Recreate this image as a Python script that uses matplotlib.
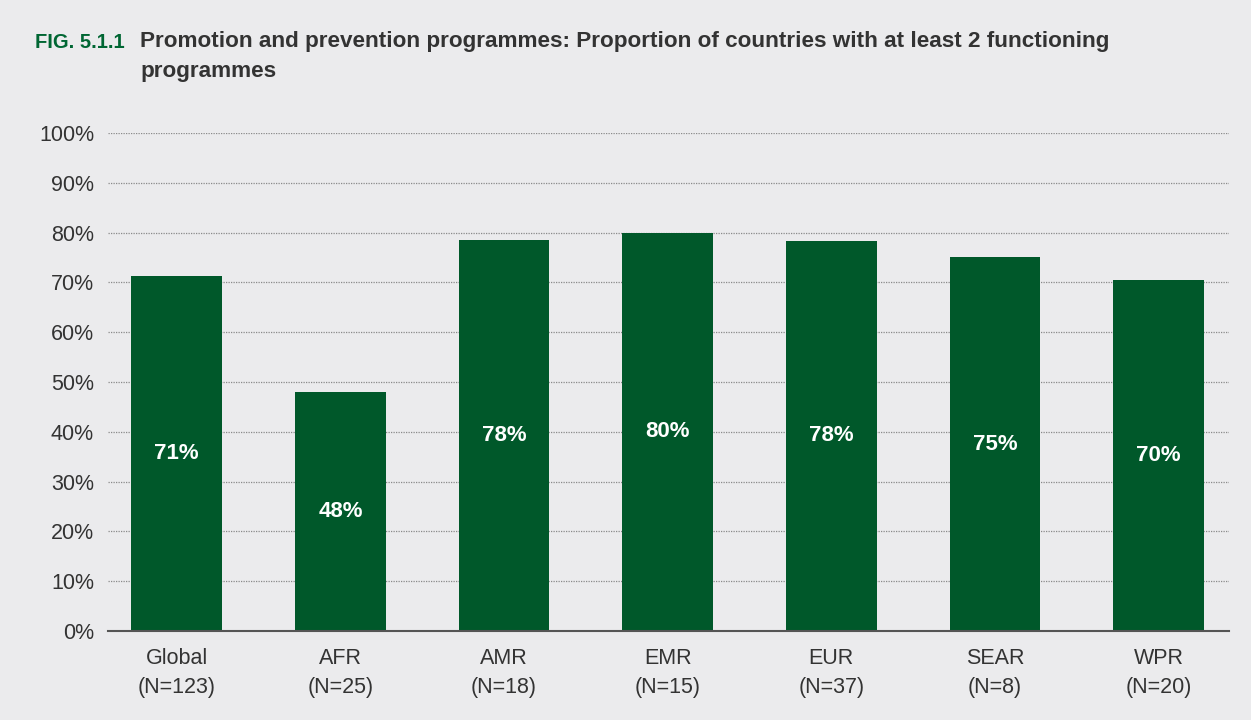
import matplotlib.pyplot as plt
from matplotlib import font_manager

regions = ["Global", "AFR", "AMR", "EMR", "EUR", "SEAR", "WPR"]
counts = [123, 25, 18, 15, 37, 8, 20]
values = [71.3, 48.0, 78.6, 80.0, 78.4, 75.0, 70.4]
bar_labels = ["71%", "48%", "78%", "80%", "78%", "75%", "70%"]
yticks = [0, 10, 20, 30, 40, 50, 60, 70, 80, 90, 100]

bg = "#EBEBED"
green = "#00582A"

names = {f.name for f in font_manager.fontManager.ttflist}
narrow = "Liberation Sans Narrow" if "Liberation Sans Narrow" in names else "Liberation Sans"

fig = plt.figure(figsize=(12.51, 7.2), dpi=100, facecolor=bg)
ax = fig.add_axes([108 / 1251, 1 - 631 / 720, (1229 - 108) / 1251, (631 - 133) / 720])
ax.set_facecolor(bg)

x = range(len(regions))
ax.bar(x, values, width=0.555, color=green, zorder=3)
for i, (v, lab) in enumerate(zip(values, bar_labels)):
    ax.text(i, v / 2, lab, ha="center", va="center", color="white",
            fontsize=16, fontweight="bold", family="Liberation Sans", zorder=4)

ax.set_xlim(-0.42, 6.43)
ax.set_ylim(0, 100)
ax.set_yticks(yticks)
ax.set_yticklabels([f"{t}%" for t in yticks], family=narrow, fontsize=15.5, color="#333333")
ax.set_xticks(list(x))
ax.set_xticklabels([f"{r}\n(N={n})" for r, n in zip(regions, counts)],
                   family=narrow, fontsize=15.5, color="#333333", linespacing=1.55)
ax.tick_params(axis="y", length=0, pad=10)
ax.tick_params(axis="x", length=0, pad=12)
ax.yaxis.grid(True, linestyle=(0, (1, 1)), color="#8a8a8a", linewidth=0.9, zorder=0)
for s in ["top", "right", "left"]:
    ax.spines[s].set_visible(False)
ax.spines["bottom"].set_color("#555555")
ax.spines["bottom"].set_linewidth(1.5)
ax.spines["bottom"].set_zorder(5)

fig.text(35 / 1251, 1 - 42 / 720, "FIG. 5.1.1", color="#006633", fontsize=14.5,
         fontweight="bold", family="Liberation Sans", va="center")
fig.text(140 / 1251, 1 - 42 / 720,
         "Promotion and prevention programmes: Proportion of countries with at least 2 functioning",
         color="#333333", fontsize=16.2, fontweight="bold", family="Liberation Sans", va="center")
fig.text(140 / 1251, 1 - 71 / 720, "programmes",
         color="#333333", fontsize=16.2, fontweight="bold", family="Liberation Sans", va="center")

fig.savefig("out.png", dpi=100, facecolor=bg)
